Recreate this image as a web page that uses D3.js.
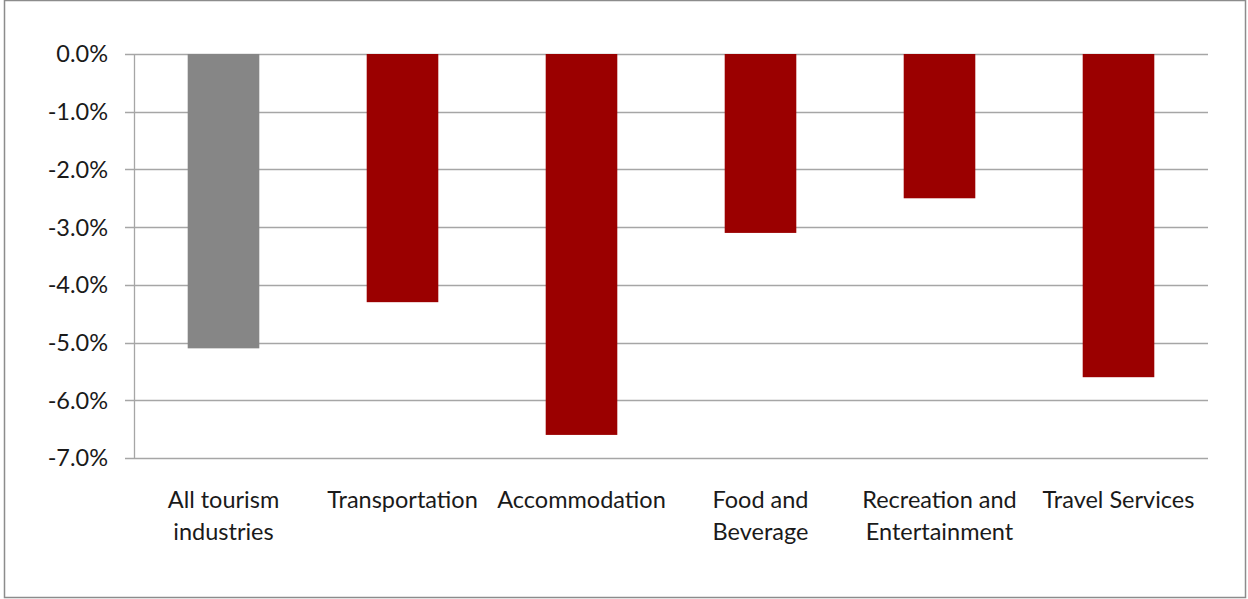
<!DOCTYPE html>
<html>
<head>
<meta charset="utf-8">
<script src="https://cdn.jsdelivr.net/npm/d3@7"></script>
<style>
  html, body { margin: 0; padding: 0; background: #fff; }
  svg text { font-family: Lato, "Open Sans", sans-serif; fill: #1a1a1a; }
</style>
</head>
<body>
<svg id="chart" width="1248" height="599"></svg>
<script>
// Percentage change by tourism industry
const categories = [
  "All tourism\nindustries",
  "Transportation",
  "Accommodation",
  "Food and\nBeverage",
  "Recreation and\nEntertainment",
  "Travel Services"
];
const values = [-5.1, -4.3, -6.6, -3.1, -2.5, -5.6];
const barColors = ["#868686", "#9b0000", "#9b0000", "#9b0000", "#9b0000", "#9b0000"];
const yTicks = [0, -1, -2, -3, -4, -5, -6, -7];

const svg = d3.select("#chart");
const W = 1248, H = 599;
const plot = { left: 134, right: 1208, top: 54, bottom: 458 };

// outer frame
svg.append("rect")
  .attr("x", 4.5).attr("y", 0.5)
  .attr("width", W - 7).attr("height", H - 2)
  .attr("fill", "#fff")
  .attr("stroke", "#8c8c8c").attr("stroke-width", 1.5);

const x = d3.scaleBand()
  .domain(categories)
  .range([plot.left, plot.right])
  .paddingInner(0.6)
  .paddingOuter(0.3);

const y = d3.scaleLinear()
  .domain([-7, 0])
  .range([plot.bottom, plot.top]);

// horizontal gridlines
svg.append("g")
  .selectAll("line")
  .data(yTicks)
  .join("line")
  .attr("x1", plot.left - 9)
  .attr("x2", plot.right)
  .attr("y1", d => Math.round(y(d)) + 0.5)
  .attr("y2", d => Math.round(y(d)) + 0.5)
  .attr("stroke", "#a6a6a6")
  .attr("stroke-width", 1.3);

// vertical axis line
svg.append("line")
  .attr("x1", plot.left + 0.5).attr("x2", plot.left + 0.5)
  .attr("y1", plot.top).attr("y2", plot.bottom)
  .attr("stroke", "#a6a6a6").attr("stroke-width", 1.3);

// y tick labels (plain hyphen for the minus sign)
const fmt = d3.format(".1f");
svg.append("g")
  .selectAll("text")
  .data(yTicks)
  .join("text")
  .attr("x", 108)
  .attr("y", d => y(d))
  .attr("dy", "0.36em")
  .attr("text-anchor", "end")
  .attr("font-size", 23.5)
  .text(d => fmt(d).replace("\u2212", "-") + "%");

// bars
svg.append("g")
  .selectAll("rect")
  .data(values)
  .join("rect")
  .attr("x", (d, i) => x(categories[i]))
  .attr("width", x.bandwidth())
  .attr("y", y(0))
  .attr("height", d => y(d) - y(0))
  .attr("fill", (d, i) => barColors[i]);

// category labels
const labels = svg.append("g")
  .selectAll("text")
  .data(categories)
  .join("text")
  .attr("x", d => x(d) + x.bandwidth() / 2)
  .attr("y", 508)
  .attr("text-anchor", "middle")
  .attr("font-size", 23.5);

labels.each(function (d) {
  const t = d3.select(this);
  d.split("\n").forEach((line, k) => {
    t.append("tspan")
      .attr("x", t.attr("x"))
      .attr("dy", k === 0 ? 0 : 32)
      .text(line);
  });
});
</script>
</body>
</html>
